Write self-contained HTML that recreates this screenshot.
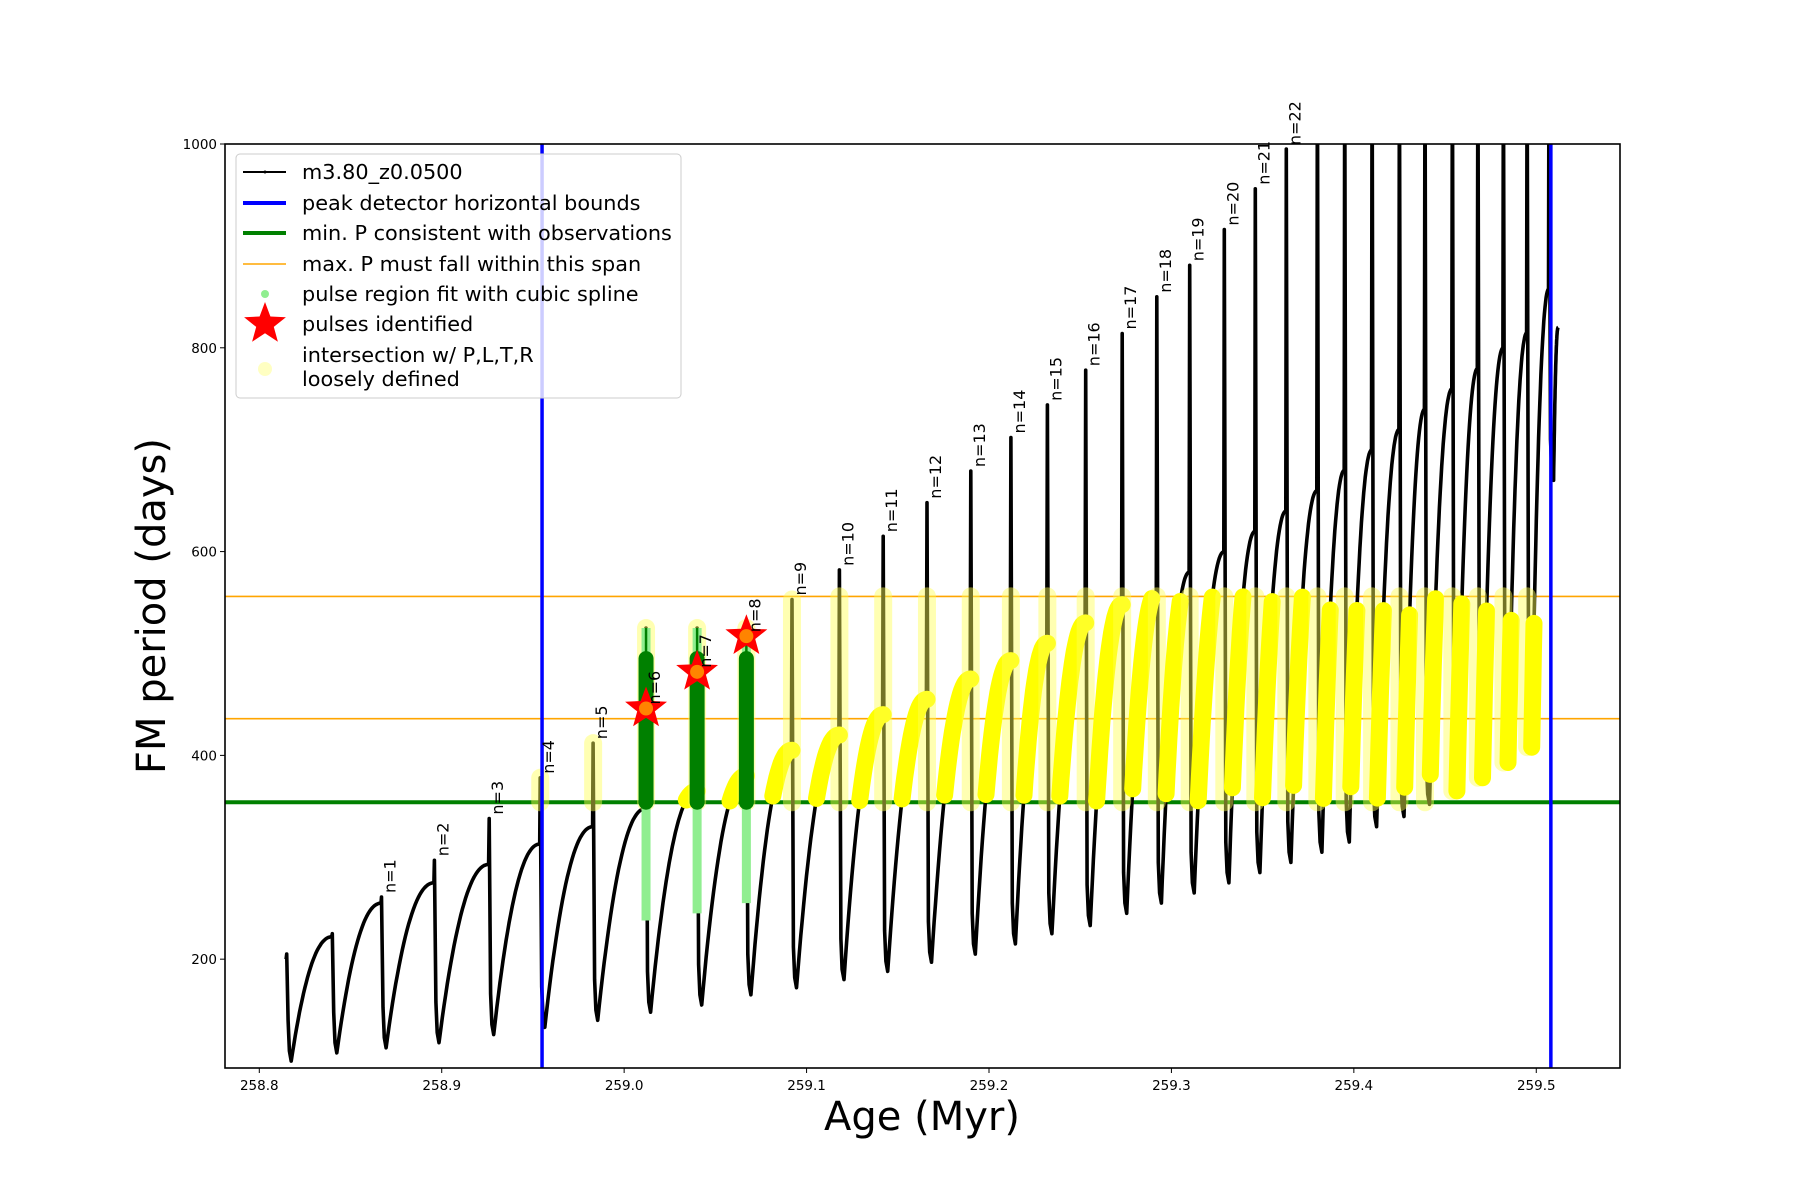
<!DOCTYPE html>
<html><head><meta charset="utf-8"><style>
html,body{margin:0;padding:0;background:#fff;}
svg{display:block;font-family:"DejaVu Sans","Liberation Sans",sans-serif;}
</style></head><body>
<svg id="chart" width="1800" height="1200" viewBox="0 0 1800 1200" xmlns="http://www.w3.org/2000/svg">
<rect width="1800" height="1200" fill="#fff"/>
<defs><clipPath id="plotclip"><rect x="225" y="144" width="1395" height="924"/></clipPath></defs>
<g id="plot" clip-path="url(#plotclip)"></g>
<g id="overlay"></g>
<rect x="225" y="144" width="1395" height="924" fill="none" stroke="#000" stroke-width="1.6"/>
<g id="xticks"></g>
<g id="yticks"></g>
<text x="922" y="1130" font-size="40" text-anchor="middle">Age (Myr)</text>
<text transform="translate(165,606) rotate(-90)" font-size="40" text-anchor="middle">FM period (days)</text>
<g>
<rect x="236" y="154" width="445" height="244" rx="4" fill="#fff" fill-opacity="0.8" stroke="#ccc" stroke-width="1"/>
<g><line x1="243" y1="172" x2="286" y2="172" stroke="#000" stroke-width="2"/><circle cx="265" cy="172" r="1.5" fill="#000"/><text x="302" y="179" font-size="20.8">m3.80_z0.0500</text></g>
<g><line x1="243" y1="203" x2="286" y2="203" stroke="#00f" stroke-width="4"/><text x="302" y="210" font-size="20.8">peak detector horizontal bounds</text></g>
<g><line x1="243" y1="233" x2="286" y2="233" stroke="#008000" stroke-width="4"/><text x="302" y="240" font-size="20.8">min. P consistent with observations</text></g>
<g><line x1="243" y1="264" x2="286" y2="264" stroke="#ffa500" stroke-width="1.6"/><text x="302" y="271" font-size="20.8">max. P must fall within this span</text></g>
<g><circle cx="265" cy="294" r="4" fill="#90ee90"/><text x="302" y="301" font-size="20.8">pulse region fit with cubic spline</text></g>
<g><polygon id="legstar" fill="#f00"/><text x="302" y="331" font-size="20.8">pulses identified</text></g>
<g><circle cx="265" cy="369" r="7" fill="#ffff99" fill-opacity="0.6"/><text x="302" y="362" font-size="20.8">intersection w/ P,L,T,R</text><text x="302" y="386" font-size="20.8">loosely defined</text></g>
</g>
</svg>
<script>
const spikeAges=[258.815,258.840,258.867,258.896,258.926,258.954,258.983,259.012,259.040,259.067,259.092,259.118,259.142,259.166,259.190,259.212,259.232,259.253,259.273,259.292,259.310,259.329,259.346,259.363,259.380,259.395,259.410,259.425,259.439,259.454,259.468,259.482,259.495,259.507];
const spikeTops=[205,225,261,297,338,378,412,525,525,525,553,582,615,648,679,712,744,778,814,850,881,916,956,995,1100,1100,1100,1100,1100,1100,1100,1100,1100,1100];
const arcPeaks=[200,222,255,275,293,313,330,348,365,380,405,420,440,455,475,493,510,530,548,560,580,600,620,640,660,680,700,720,740,760,780,800,815,858];
const troughs=[100,108,113,118,126,133,140,148,155,165,172,180,188,197,205,215,225,233,245,255,265,275,285,295,305,315,330,340,352,365,378,393,408,670];
const finalAge=259.512, finalValue=820;
const pulseLabels=["n=1","n=2","n=3","n=4","n=5","n=6","n=7","n=8","n=9","n=10","n=11","n=12","n=13","n=14","n=15","n=16","n=17","n=18","n=19","n=20","n=21","n=22"];
const starAges=[259.012,259.040,259.067];
const starValues=[446,482,517];
const minP=[354];
const maxPSpan=[436,556];
const boundAges=[258.955,259.508];
const xTickValues=[258.8,258.9,259.0,259.1,259.2,259.3,259.4,259.5];
const yTickValues=[200,400,600,800,1000];

const NS="http://www.w3.org/2000/svg";
const X0=225,X1=1620,Y0=144,Y1=1068;
const xmin=258.7812,xmax=259.5459,ymin=93.2,ymax=1000;
function sx(a){return X0+(a-xmin)/(xmax-xmin)*(X1-X0);}
function sy(v){return Y1-(v-ymin)/(ymax-ymin)*(Y1-Y0);}
function mk(tag,attrs,parent){const e=document.createElementNS(NS,tag);for(const k in attrs)e.setAttribute(k,attrs[k]);parent.appendChild(e);return e;}
const plot=document.getElementById('plot'),ov=document.getElementById('overlay');
function star(cx,cy,R){const r=R*0.42;let p=[];for(let i=0;i<10;i++){const ang=-Math.PI/2+i*Math.PI/5;const rr=i%2?r:R;p.push((cx+rr*Math.cos(ang)).toFixed(1)+','+(cy+rr*Math.sin(ang)).toFixed(1));}return p.join(' ');}
document.getElementById('legstar').setAttribute('points',star(265,324,22));

const gl=mk('line',{x1:X0,x2:X1,y1:sy(minP[0]),y2:sy(minP[0]),stroke:'#008000','stroke-width':4},plot);


maxPSpan.forEach((v,i)=>{const l=mk('line',{x1:X0,x2:X1,y1:sy(v),y2:sy(v),stroke:'#ffa500','stroke-width':1.6},plot);

});

const n=spikeAges.length;
function arcPts(i){
  const a0=spikeAges[i]+0.0025, a1=(i+1<n?spikeAges[i+1]:finalAge);
  const v0=troughs[i], v1=(i+1<n?arcPeaks[i+1]:finalValue);
  const pts=[];for(let k=0;k<=30;k++){const t=k/30;const f=1-Math.pow(1-t,2.2);pts.push([a0+(a1-a0)*t,v0+(v1-v0)*f]);}
  return pts;
}
const blackG=mk('g',{},plot);


const yellowG=mk('g',{},plot);


for(let i=0;i<n;i++){
  const a=spikeAges[i];
  const pts=[[a-0.0003,arcPeaks[i]],[a,spikeTops[i]],[a+0.0008,troughs[i]+40],[a+0.0015,troughs[i]+10],[a+0.0025,troughs[i]]];
  const arc=arcPts(i);
  const all=pts.concat(arc);
  const pl=mk('polyline',{points:all.map(p=>sx(p[0]).toFixed(1)+','+sy(p[1]).toFixed(1)).join(' '),fill:'none',stroke:'#000','stroke-width':3.6,'stroke-linejoin':'round'},blackG);
  
  
  if(i>=5){
    const lo=Math.max(minP[0],troughs[i]),hi=Math.min(maxPSpan[1],spikeTops[i]);
    if(hi>lo){const s=mk('line',{x1:sx(a),x2:sx(a),y1:sy(lo),y2:sy(hi),stroke:'#ffff55','stroke-opacity':0.45,'stroke-width':18,'stroke-linecap':'round'},yellowG);
    
    }
  }
  if(i+1>=8 && i+1<n){
    const seg=arc.filter(p=>p[1]>=minP[0]&&p[1]<=maxPSpan[1]);
    if(seg.length>1){const y=mk('polyline',{points:seg.map(p=>sx(p[0]).toFixed(1)+','+sy(p[1]).toFixed(1)).join(' '),fill:'none',stroke:'#ffff00','stroke-width':17,'stroke-linecap':'round','stroke-linejoin':'round'},yellowG);
    
    }
  }
}
[7,8,9].forEach((i,j)=>{
  const x=sx(spikeAges[i]);
  const lg=mk('line',{x1:x,x2:x,y1:sy(troughs[i]+90),y2:sy(spikeTops[i]),stroke:'#90ee90','stroke-width':9},ov);
  
  
  const dg=mk('line',{x1:x,x2:x,y1:sy(minP[0]),y2:sy(spikeTops[i]-30),stroke:'#008000','stroke-width':15,'stroke-linecap':'round'},ov);
  
  
  const th=mk('line',{x1:x,x2:x,y1:sy(spikeTops[i]-30),y2:sy(spikeTops[i]),stroke:'#008000','stroke-width':2.5},ov);
  
  
});
starAges.forEach((a,j)=>{
  const s=mk('polygon',{points:star(sx(a),sy(starValues[j]),22),fill:'#f00'},ov);
  
  
  const c=mk('circle',{cx:sx(a),cy:sy(starValues[j]),r:7,fill:'#ffa500','fill-opacity':0.8},ov);
  
  
});
boundAges.forEach(a=>{const b=mk('line',{x1:sx(a),x2:sx(a),y1:Y0,y2:Y1,stroke:'#00f','stroke-width':3.5},ov);

});
pulseLabels.forEach((t,k)=>{
  const i=k+2;let v=spikeTops[i];
  const si=starAges.indexOf(spikeAges[i]); if(si>=0) v=starValues[si];
  const x=sx(spikeAges[i])+14, y=sy(v)-4;
  const tx=mk('text',{transform:`translate(${x.toFixed(1)},${y.toFixed(1)}) rotate(-90)`,'font-size':16},ov);
  tx.textContent=t;
  
  
});
const xt=document.getElementById('xticks'),yt=document.getElementById('yticks');
xTickValues.forEach(v=>{const x=sx(v);mk('line',{x1:x,x2:x,y1:Y1,y2:Y1+5,stroke:'#000','stroke-width':1},xt);
  const t=mk('text',{x:x,y:Y1+22,'font-size':13.5,'text-anchor':'middle'},xt);t.textContent=v.toFixed(1);
  
  });
yTickValues.forEach(v=>{const y=sy(v);mk('line',{x1:X0-5,x2:X0,y1:y,y2:y,stroke:'#000','stroke-width':1},yt);
  const t=mk('text',{x:X0-8,y:y+5,'font-size':13.5,'text-anchor':'end'},yt);t.textContent=String(v);
  
  });
</script>
</body></html>
